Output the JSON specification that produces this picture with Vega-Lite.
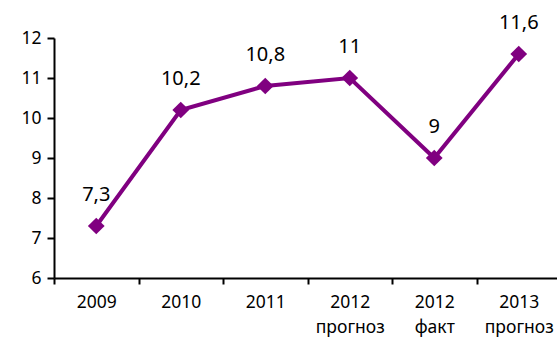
{
  "$schema": "https://vega.github.io/schema/vega-lite/v6.json",
  "width": 507,
  "height": 240,
  "autosize": "none",
  "padding": {"left": 54, "top": 38, "right": 0, "bottom": 73},
  "background": "white",
  "config": {"view": {"stroke": null}, "font": "Noto Sans"},
  "data": {"values": [
    {"cat": "2009", "value": 7.3, "label": "7,3"},
    {"cat": "2010", "value": 10.2, "label": "10,2"},
    {"cat": "2011", "value": 10.8, "label": "10,8"},
    {"cat": "2012 прогноз", "value": 11, "label": "11"},
    {"cat": "2012 факт", "value": 9, "label": "9"},
    {"cat": "2013 прогноз", "value": 11.6, "label": "11,6"}
  ]},
  "encoding": {
    "x": {"field": "cat", "type": "nominal", "sort": null, "scale": {"paddingInner": 0, "paddingOuter": 0},
      "axis": {"title": null, "labelAngle": 0, "labelExpr": "split(datum.label, ' ')", "labelFontSize": 17.5, "labelColor": "black", "labelLineHeight": 25, "labelPadding": 9, "tickBand": "extent", "tickSize": 6, "tickColor": "black", "tickWidth": 2, "domainColor": "black", "domainWidth": 2, "grid": false}},
    "y": {"field": "value", "type": "quantitative", "scale": {"domain": [6, 12], "nice": false, "zero": false},
      "axis": {"title": null, "values": [6,7,8,9,10,11,12], "labelFontSize": 17.5, "labelColor": "black", "labelPadding": 6, "tickSize": 7, "tickColor": "black", "tickWidth": 2, "domainColor": "black", "domainWidth": 2, "grid": false}}
  },
  "layer": [
    {"mark": {"type": "line", "color": "#800080", "strokeWidth": 4}},
    {"mark": {"type": "point", "shape": "diamond", "filled": true, "size": 280, "color": "#800080", "opacity": 1}},
    {"mark": {"type": "text", "fontSize": 20, "color": "black", "baseline": "middle", "dy": -31}, "encoding": {"text": {"field": "label"}}}
  ]
}
